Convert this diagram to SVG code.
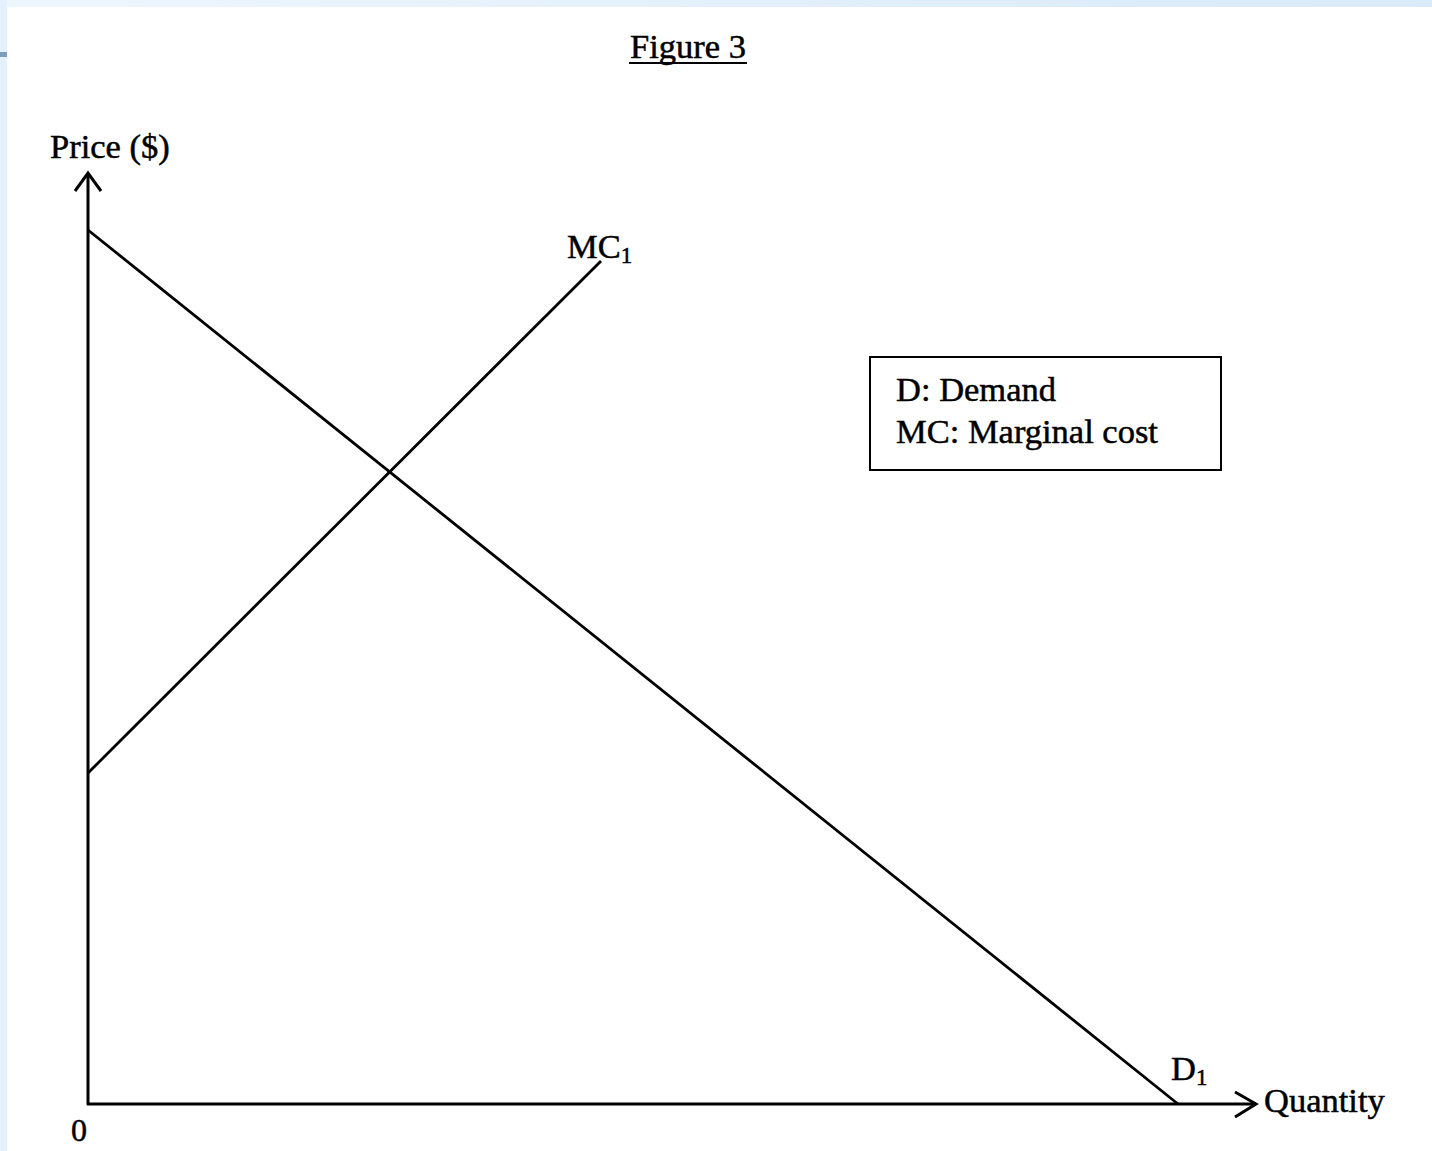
<svg xmlns="http://www.w3.org/2000/svg" width="1432" height="1151" viewBox="0 0 1432 1151">
<defs>
<linearGradient id="band" x1="0" y1="0" x2="1" y2="0">
<stop offset="0" stop-color="#eef6fd"/>
<stop offset="1" stop-color="#d9eaf8"/>
</linearGradient>
<style>
text{font-family:"Liberation Serif","Times New Roman",serif;fill:#000;font-size:34.5px;stroke:#000;stroke-width:0.5}
.ax{stroke:#000;stroke-width:3;fill:none}
.ln{stroke:#000;stroke-width:2.8;fill:none}
.sub{font-size:23px}
</style>
</defs>
<rect width="1432" height="1151" fill="#fff"/>
<rect x="0" y="0" width="1432" height="7" fill="url(#band)"/>
<rect x="0" y="0" width="7" height="1151" fill="#e4f0fb"/>
<rect x="0" y="52" width="7" height="5" fill="#7d9fbd"/>
<g id="title">
<text x="630" y="58">Figure 3</text>
<line x1="629" y1="63" x2="747" y2="63" stroke="#000" stroke-width="2"/>
</g>
<g id="axes">
<line class="ax" x1="88" y1="173" x2="88" y2="1105"/>
<polyline class="ax" points="75,191 88,173 101,191"/>
<line class="ax" x1="87" y1="1104" x2="1256" y2="1104"/>
<polyline class="ax" points="1235,1092 1256,1104 1235,1117"/>
<text x="50" y="158">Price ($)</text>
<text x="1264" y="1112">Quantity</text>
<text x="71" y="1141" style="font-size:32px">0</text>
</g>
<g id="connectors">
<line class="ln" x1="88" y1="230" x2="1178" y2="1104"/>
<line class="ln" x1="88" y1="773" x2="601" y2="261"/>
</g>
<g id="mc1">
<text x="567" y="258">MC<tspan class="sub" dy="5">1</tspan></text>
</g>
<g id="d1">
<text x="1171" y="1080">D<tspan class="sub" dy="5">1</tspan></text>
</g>
<g id="legend">
<rect x="870" y="357" width="351" height="113" fill="#fff" stroke="#000" stroke-width="2"/>
<text x="896" y="401">D: Demand</text>
<text x="896" y="443">MC: Marginal cost</text>
</g>
</svg>
